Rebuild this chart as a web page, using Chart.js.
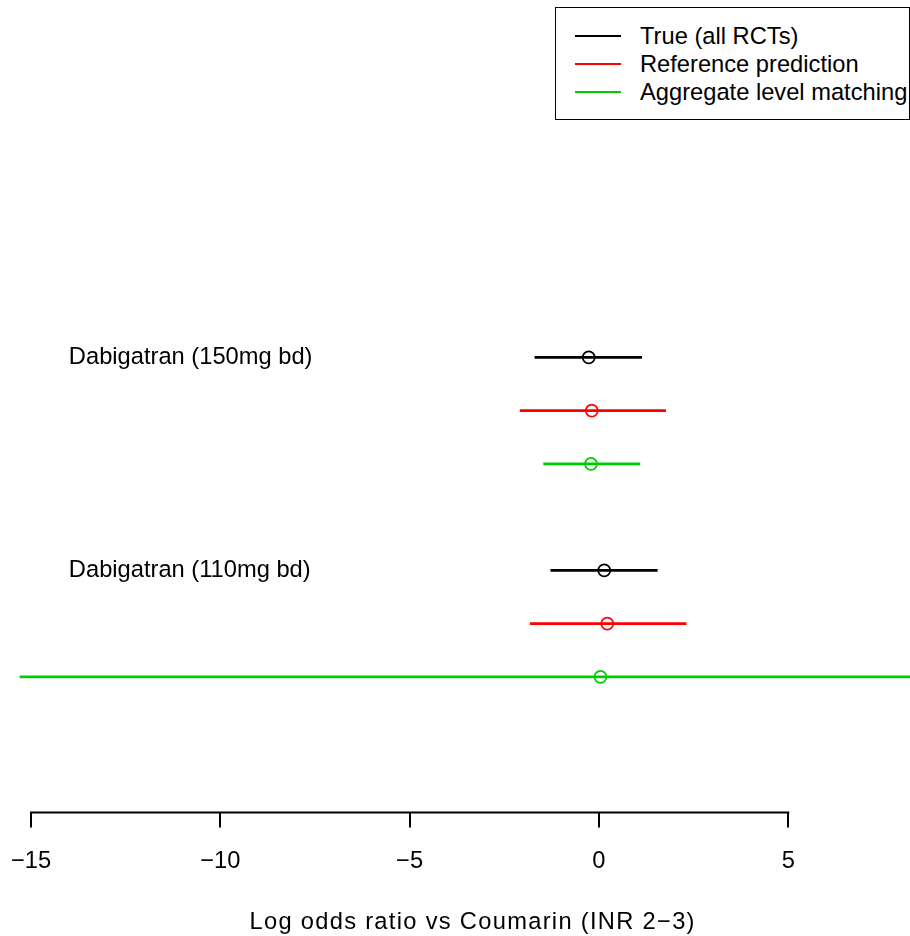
<!DOCTYPE html>
<html>
<head>
<meta charset="utf-8">
<script src="https://cdn.jsdelivr.net/npm/chart.js@4/dist/chart.umd.min.js"></script>
<style>
  body { margin: 0; background: #fff; }
  #wrap { position: relative; width: 910px; height: 936px; overflow: hidden; }
  #legend {
    position: absolute; left: 555px; top: 7px; width: 353px; height: 111px;
    border: 1.5px solid #000; background: #fff;
    font-family: "Liberation Sans", Arial, sans-serif; font-size: 23.7px;
  }
  #legend .row { position: absolute; left: 0; height: 28px; line-height: 28px; white-space: nowrap; }
  #legend .swatch { position: absolute; left: 19px; top: 13px; width: 46px; height: 2px; }
  #legend .txt { position: absolute; left: 84px; top: 0; }
</style>
</head>
<body>
<div id="wrap">
  <canvas id="myChart" width="910" height="936"></canvas>
  <div id="legend"></div>
</div>
<script>
// Data --------------------------------------------

const xTicks = [-15, -10, -5, 0, 5];
const groupLabels = ['Dabigatran (150mg bd)', 'Dabigatran (110mg bd)'];
const groupRows = [1, 5];

const seriesNames = ['True (all RCTs)', 'Reference prediction', 'Aggregate level matching'];
const seriesColors = ['#000000', '#ff0000', '#00cd00'];

// one value per group (150mg, 110mg)
const trueRows = [1, 5];
const trueEst = [-0.27, 0.14];
const trueLo = [-1.70, -1.28];
const trueHi = [1.14, 1.55];

const refRows = [2, 6];
const refEst = [-0.19, 0.22];
const refLo = [-2.09, -1.82];
const refHi = [1.77, 2.31];

const almRows = [3, 7];
const almEst = [-0.21, 0.04];
const almLo = [-1.47, -15.3];
const almHi = [1.09, 15.4];

const xTitle = 'Log odds ratio vs Coumarin (INR 2\u22123)';

// Build datasets --------------------------------------------

const series = [
  [trueRows, trueEst, trueLo, trueHi],
  [refRows, refEst, refLo, refHi],
  [almRows, almEst, almLo, almHi]
];

let datasets = [];
series.forEach((s, k) => {
  const [rows, est, lo, hi] = s;
  let seg = [];
  rows.forEach((r, i) => {
    seg.push({x: lo[i], y: r}, {x: hi[i], y: r}, {x: hi[i], y: null});
  });
  datasets.push({
    label: seriesNames[k],
    data: seg,
    showLine: true,
    spanGaps: false,
    clip: false,
    borderColor: seriesColors[k],
    borderWidth: 2.7,
    pointRadius: 0
  });
  datasets.push({
    label: seriesNames[k] + ' est',
    data: rows.map((r, i) => ({x: est[i], y: r})),
    showLine: false,
    pointStyle: 'circle',
    pointRadius: 6,
    pointBorderWidth: 1.7,
    pointBorderColor: seriesColors[k],
    pointBackgroundColor: '#ffffff'
  });
});

const FONT = '"Liberation Sans", Arial, sans-serif';
const FSIZE = 23.7;

// Plugins: axis line, axis title and group labels
const extras = {
  id: 'extras',
  afterDatasetsDraw(chart) {
    const c = chart.ctx;
    const xs = chart.scales.x, ys = chart.scales.y;
    c.save();
    c.strokeStyle = '#000';
    c.lineWidth = 2;
    c.beginPath();
    const yb = chart.chartArea.bottom + 1;
    c.moveTo(xs.getPixelForValue(xTicks[0]) - 1, yb);
    c.lineTo(xs.getPixelForValue(xTicks[xTicks.length - 1]) + 1, yb);
    c.stroke();
    c.fillStyle = '#000';
    c.font = FSIZE + 'px ' + FONT;
    c.textAlign = 'left';
    c.textBaseline = 'middle';
    groupLabels.forEach((t, i) => {
      c.fillText(t, xs.getPixelForValue(-14.0), ys.getPixelForValue(groupRows[i]));
    });
    // x axis title
    c.textAlign = 'center';
    c.textBaseline = 'alphabetic';
    c.letterSpacing = '1.3px';
    c.fillText(xTitle, (xs.getPixelForValue(-15) + xs.getPixelForValue(5)) / 2 + 63, 929);
    c.restore();
  }
};

let ctx = document.getElementById('myChart').getContext('2d');
let chart = new Chart(ctx, {
  type: 'scatter',
  data: { datasets: datasets },
  options: {
    responsive: false,
    animation: false,
    layout: { padding: { left: 18, right: 0, top: 0, bottom: 40 } },
    plugins: { legend: { display: false }, tooltip: { enabled: false } },
    scales: {
      x: {
        type: 'linear',
        min: -15.343,
        max: 8.012,
        afterBuildTicks: (axis) => { axis.ticks = xTicks.map(v => ({value: v})); },
        afterFit: (axis) => { axis.paddingLeft = 0; axis.paddingRight = 0; },
        grid: { display: true, drawOnChartArea: false, drawTicks: true, tickLength: 16, color: '#000', lineWidth: 2 },
        border: { display: false },
        ticks: {
          color: '#000',
          font: { family: FONT, size: FSIZE },
          padding: 20,
          maxRotation: 0,
          autoSkip: false,
          callback: (v) => String(v).replace('-', '\u2212')
        }
      },
      y: {
        type: 'linear',
        display: false,
        reverse: true,
        min: -5.57,
        max: 9.53
      }
    }
  },
  plugins: [extras]
});

// Legend --------------------------------------------

const legend = document.getElementById('legend');
seriesNames.forEach((n, i) => {
  const row = document.createElement('div');
  row.className = 'row';
  row.style.top = (14 + i * 28) + 'px';
  row.innerHTML = '<span class="swatch" style="background:' + seriesColors[i] + '"></span><span class="txt"></span>';
  row.querySelector('.txt').textContent = n;
  legend.appendChild(row);
});
</script>
</body>
</html>
